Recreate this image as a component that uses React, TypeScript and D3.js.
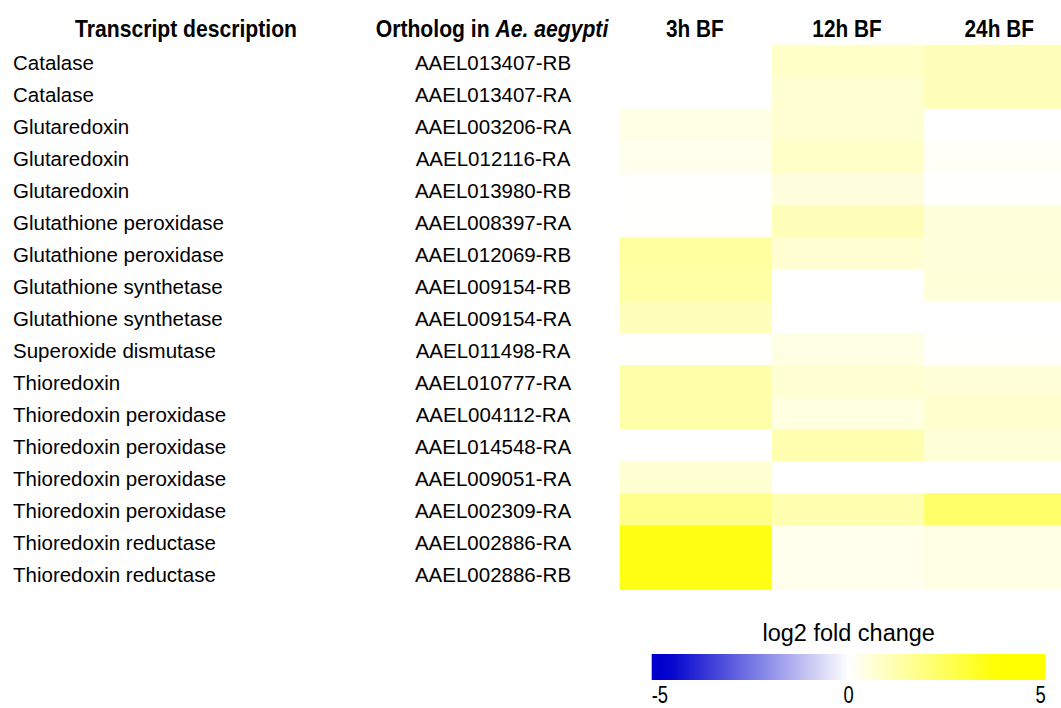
import React from 'react';
import * as d3 from 'd3';

// transcript rows, top to bottom
const descriptions = [
  "Catalase", "Catalase", "Glutaredoxin", "Glutaredoxin", "Glutaredoxin",
  "Glutathione peroxidase", "Glutathione peroxidase", "Glutathione synthetase",
  "Glutathione synthetase", "Superoxide dismutase", "Thioredoxin",
  "Thioredoxin peroxidase", "Thioredoxin peroxidase", "Thioredoxin peroxidase",
  "Thioredoxin peroxidase", "Thioredoxin reductase", "Thioredoxin reductase",
];
const orthologs = [
  "AAEL013407-RB", "AAEL013407-RA", "AAEL003206-RA", "AAEL012116-RA", "AAEL013980-RB",
  "AAEL008397-RA", "AAEL012069-RB", "AAEL009154-RB", "AAEL009154-RA", "AAEL011498-RA",
  "AAEL010777-RA", "AAEL004112-RA", "AAEL014548-RA", "AAEL009051-RA", "AAEL002309-RA",
  "AAEL002886-RA", "AAEL002886-RB",
];
const timepoints = ["3h BF", "12h BF", "24h BF"];

// log2 fold change per timepoint
const fc3h = [0, 0, 0.37, 0.25, 0.03, 0.03, 1.42, 1.34, 1.04, 0.03, 1.27, 1.27, 0, 0.67, 1.71, 3.5, 3.5];
const fc12h = [0.82, 0.67, 0.67, 0.82, 0.49, 1.04, 0.67, 0, 0, 0.4, 0.67, 0.45, 1.19, 0, 1.19, 0.25, 0.25];
const fc24h = [1.04, 1.04, 0, 0.15, 0.03, 0.52, 0.52, 0.55, 0, 0.03, 0.6, 0.75, 0.6, 0, 2.24, 0.4, 0.4];

const legendTicks = [-5, 0, 5];

const font = "'Liberation Sans', Arial, sans-serif";

export default function App() {
  const width = 1061, height = 708;
  const series = [fc3h, fc12h, fc24h];

  const y = d3.scaleBand<number>().domain(d3.range(descriptions.length)).range([44.7, 589.3]);
  const x = d3.scaleBand<string>().domain(timepoints).range([619.7, 1076.3]);

  const color = d3.scaleLinear<string>()
    .domain([-4.6, 0, 3.8])
    .range(["#0000cd", "#ffffff", "#ffff00"])
    .interpolate(d3.interpolateRgb)
    .clamp(true);

  const lx = d3.scaleLinear().domain([-5, 5]).range([651.7, 1045.7]);
  const stops = d3.range(0, 1.0001, 0.025);

  return (
    <svg width={width} height={height} style={{ position: 'absolute', left: 0, top: 0 }} fontFamily={font}>
      <defs>
        <linearGradient id="fcgrad" x1="0" x2="1" y1="0" y2="0">
          {stops.map((t, i) => (
            <stop key={i} offset={t} stopColor={color(-5 + 10 * t)} />
          ))}
        </linearGradient>
      </defs>

      {/* headers */}
      <g fontWeight="bold" fontSize={23.5} fill="#000">
        <text transform="translate(186,37) scale(0.9,1)" textAnchor="middle">Transcript description</text>
        <text transform="translate(492,37) scale(0.9,1)" textAnchor="middle">
          Ortholog in <tspan fontStyle="italic">Ae. aegypti</tspan>
        </text>
        {timepoints.map(t => (
          <text key={t} transform={`translate(${x(t)! + x.bandwidth() / 2 - 1},37) scale(0.885,1)`} textAnchor="middle">{t}</text>
        ))}
      </g>

      {/* cells */}
      {series.map((vals, j) => vals.map((v, i) => (
        <rect key={`${j}-${i}`} x={x(timepoints[j])} y={y(i)} width={x.bandwidth() + 0.5} height={y.bandwidth() + 0.5} fill={color(v)} />
      )))}

      {/* row labels */}
      <g fontSize={20.5} fill="#000">
        {descriptions.map((d, i) => (
          <text key={`d${i}`} x={13} y={y(i)! + 25}>{d}</text>
        ))}
        {orthologs.map((o, i) => (
          <text key={`o${i}`} x={493} y={y(i)! + 25} textAnchor="middle">{o}</text>
        ))}
      </g>

      {/* legend */}
      <text x={(lx(-5) + lx(5)) / 2} y={641} textAnchor="middle" fontSize={23.5}>log2 fold change</text>
      <rect x={lx(-5)} y={654} width={lx(5) - lx(-5)} height={26} fill="url(#fcgrad)" />
      {legendTicks.map((t, i) => (
        <text key={t}
          transform={`translate(${lx(t)},703) scale(0.8,1)`}
          textAnchor={i === 0 ? "start" : i === legendTicks.length - 1 ? "end" : "middle"}
          fontSize={23}>{t}</text>
      ))}
    </svg>
  );
}
